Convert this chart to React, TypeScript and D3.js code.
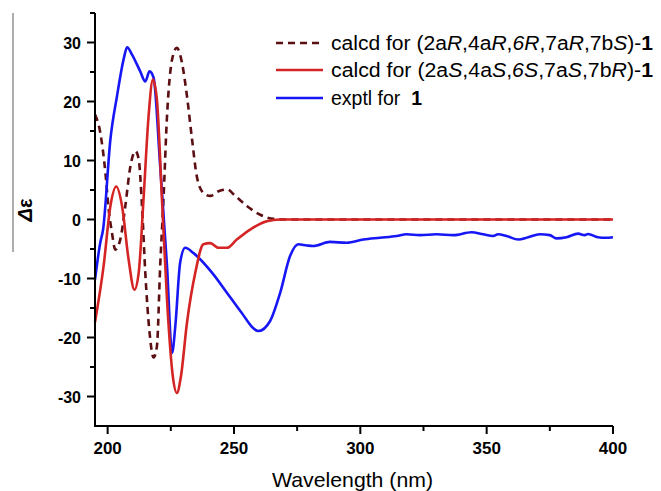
import React from 'react';
import * as d3 from 'd3';

const width = 661;
const height = 491;

// wavelength (nm), delta epsilon
const calcdRWave = [195, 197.1, 199.1, 200.4, 201.7, 203, 205, 207, 209, 211, 212.3, 213.6, 214.9, 216.6, 218.2, 219.5, 220.8, 222.1, 223.5, 225.5, 227.4, 229.4, 231.4, 233.4, 235.3, 237.9, 240.6, 243.9, 247.2, 250.5, 255.1, 260.4, 265.6, 270.2, 300, 350, 400];
const calcdRVal = [17.8, 14.7, 8, 1.7, -2.2, -5.1, -3.4, 2.3, 9, 11.6, 10.2, 2.3, -9, -19.2, -23.4, -21.5, -7.9, 3.4, 17.5, 27.1, 29.1, 26.6, 20.9, 13.6, 7.3, 4.5, 4, 4.8, 5.1, 4, 2.3, 0.8, 0.1, 0, 0, 0, 0];

const calcdSWave = [195, 198.4, 201.1, 203.4, 205.7, 208.3, 210.6, 212.3, 214.2, 216.2, 217.9, 219.5, 221.5, 223.5, 225.8, 227.4, 229, 231.4, 234.7, 237.9, 240.6, 243.9, 247.2, 251.1, 256.4, 263, 268.3, 300, 350, 400];
const calcdSVal = [-17.4, -7.9, 2.3, 5.6, 2.3, -6.8, -11.9, -9, 3.4, 17.5, 23.7, 20.3, 3.4, -13.6, -26.6, -29.4, -26.6, -17.5, -9, -4.2, -4, -4.8, -4.8, -3.4, -1.7, -0.3, 0, 0, 0, 0];

const exptlWave = [195, 197.1, 198.2, 201.1, 203.7, 206.3, 207.7, 209.6, 212.9, 214.9, 216.6, 218.2, 220.8, 223.5, 225.5, 226.8, 228.7, 230.7, 234, 241.3, 247.2, 252.5, 259.7, 264.3, 268.3, 272.2, 275.5, 278.8, 281.4, 288, 294.6, 301.2, 307.8, 314.4, 318.3, 323.6, 330.2, 336.8, 344, 348.6, 352.6, 354.5, 357.9, 362.5, 366.4, 371, 375, 377.6, 381.6, 386.2, 388.8, 390.1, 394, 397.1, 400];
const exptlVal = [-10.2, -3.9, -1.7, 13.6, 20.9, 27.1, 29.2, 28, 25.1, 23.4, 25.1, 24, 9, -7.9, -22.6, -18, -7.3, -4.8, -5.7, -9, -12.4, -15.5, -18.9, -17.2, -12.4, -6.2, -4.2, -4.4, -4.5, -3.8, -3.95, -3.4, -3.1, -2.8, -2.5, -2.65, -2.5, -2.65, -2.15, -2.5, -2.8, -2.5, -2.8, -3.4, -3.0, -2.5, -2.65, -3.2, -3.0, -2.4, -2.65, -2.45, -3.0, -3.1, -3.0];

const xTicks = [200, 250, 300, 350, 400];
const xMinorTicks = [225, 275, 325, 375];
const yTicks = [-30, -20, -10, 0, 10, 20, 30];
const yMinorTicks = [-25, -15, -5, 5, 15, 25, 35];

const x = d3.scaleLinear().domain([195, 400]).range([95, 613]);
const y = d3.scaleLinear().domain([-35, 35]).range([426, 13]);

const lineGen = d3.line<[number, number]>()
  .x(d => x(d[0]))
  .y(d => y(d[1]))
  .curve(d3.curveMonotoneX);

const zip = (a: number[], b: number[]) => a.map((v, i) => [v, b[i]] as [number, number]);

const font = 'Liberation Sans, Arial, sans-serif';

const App = () => {
  const series = [
    { data: zip(calcdRWave, calcdRVal), color: '#5c0f12', dash: '7,5' },
    { data: zip(exptlWave, exptlVal), color: '#1717f5', dash: null },
    { data: zip(calcdSWave, calcdSVal), color: '#d42424', dash: null },
  ];
  const legendX = 276;
  const legendRows = [43, 70, 98];
  return (
    <svg width={width} height={height} style={{ position: 'absolute', left: 0, top: 0, background: '#fff' }} fontFamily={font}>
      <line x1={13} x2={13} y1={13} y2={252} stroke="#777" strokeWidth={1.2} />
      <text transform="translate(32,210) rotate(-90)" textAnchor="middle" fontSize={20} fontWeight="bold">
        <tspan fontStyle="italic">Δ</tspan>ε
      </text>

      {series.map((s, i) => (
        <path key={i} d={lineGen(s.data) || ''} fill="none" stroke={s.color} strokeWidth={2.6}
          strokeDasharray={s.dash || undefined} />
      ))}

      {/* axes */}
      <line x1={x(195)} x2={x(195)} y1={y(35)} y2={y(-35)} stroke="#000" strokeWidth={2} />
      <line x1={x(195) - 1} x2={x(400)} y1={y(-35)} y2={y(-35)} stroke="#000" strokeWidth={2} />
      {yTicks.map(t => (
        <g key={t}>
          <line x1={x(195) - 8} x2={x(195)} y1={y(t)} y2={y(t)} stroke="#000" strokeWidth={2} />
          <text x={81} y={y(t) + 6} textAnchor="end" fontSize={16} fontWeight="bold">{t}</text>
        </g>
      ))}
      {yMinorTicks.map(t => (
        <line key={t} x1={x(195) - 5} x2={x(195)} y1={y(t)} y2={y(t)} stroke="#000" strokeWidth={2} />
      ))}
      {xTicks.map(t => (
        <g key={t}>
          <line x1={x(t)} x2={x(t)} y1={y(-35)} y2={y(-35) + 8} stroke="#000" strokeWidth={2} />
          <text x={x(t)} y={454} textAnchor="middle" fontSize={17} fontWeight="bold">{t}</text>
        </g>
      ))}
      {xMinorTicks.map(t => (
        <line key={t} x1={x(t)} x2={x(t)} y1={y(-35)} y2={y(-35) + 5} stroke="#000" strokeWidth={2} />
      ))}
      <text x={272} y={487} fontSize={21} textLength={161} lengthAdjust="spacingAndGlyphs">Wavelength (nm)</text>

      {/* legend */}
      <line x1={legendX} x2={legendX + 47} y1={legendRows[0]} y2={legendRows[0]} stroke="#5c0f12" strokeWidth={2.6} strokeDasharray="7,5" />
      <line x1={legendX} x2={legendX + 47} y1={legendRows[1]} y2={legendRows[1]} stroke="#d42424" strokeWidth={2.6} />
      <line x1={legendX} x2={legendX + 47} y1={legendRows[2]} y2={legendRows[2]} stroke="#1717f5" strokeWidth={2.6} />
      <g fontSize={19.5}>
        <text x={331} y={legendRows[0] + 7} textLength={322} lengthAdjust="spacingAndGlyphs">
          calcd for (2a<tspan fontStyle="italic">R</tspan>,4a<tspan fontStyle="italic">R</tspan>,<tspan fontStyle="italic">6R</tspan>,7a<tspan fontStyle="italic">R</tspan>,7b<tspan fontStyle="italic">S</tspan>)-<tspan fontWeight="bold">1</tspan>
        </text>
        <text x={331} y={legendRows[1] + 7} textLength={322} lengthAdjust="spacingAndGlyphs">
          calcd for (2a<tspan fontStyle="italic">S</tspan>,4a<tspan fontStyle="italic">S</tspan>,<tspan fontStyle="italic">6S</tspan>,7a<tspan fontStyle="italic">S</tspan>,7b<tspan fontStyle="italic">R</tspan>)-<tspan fontWeight="bold">1</tspan>
        </text>
        <text x={331} y={legendRows[2] + 7} xmlSpace="preserve">
          exptl for  <tspan fontWeight="bold">1</tspan>
        </text>
      </g>
    </svg>
  );
};

export default App;
